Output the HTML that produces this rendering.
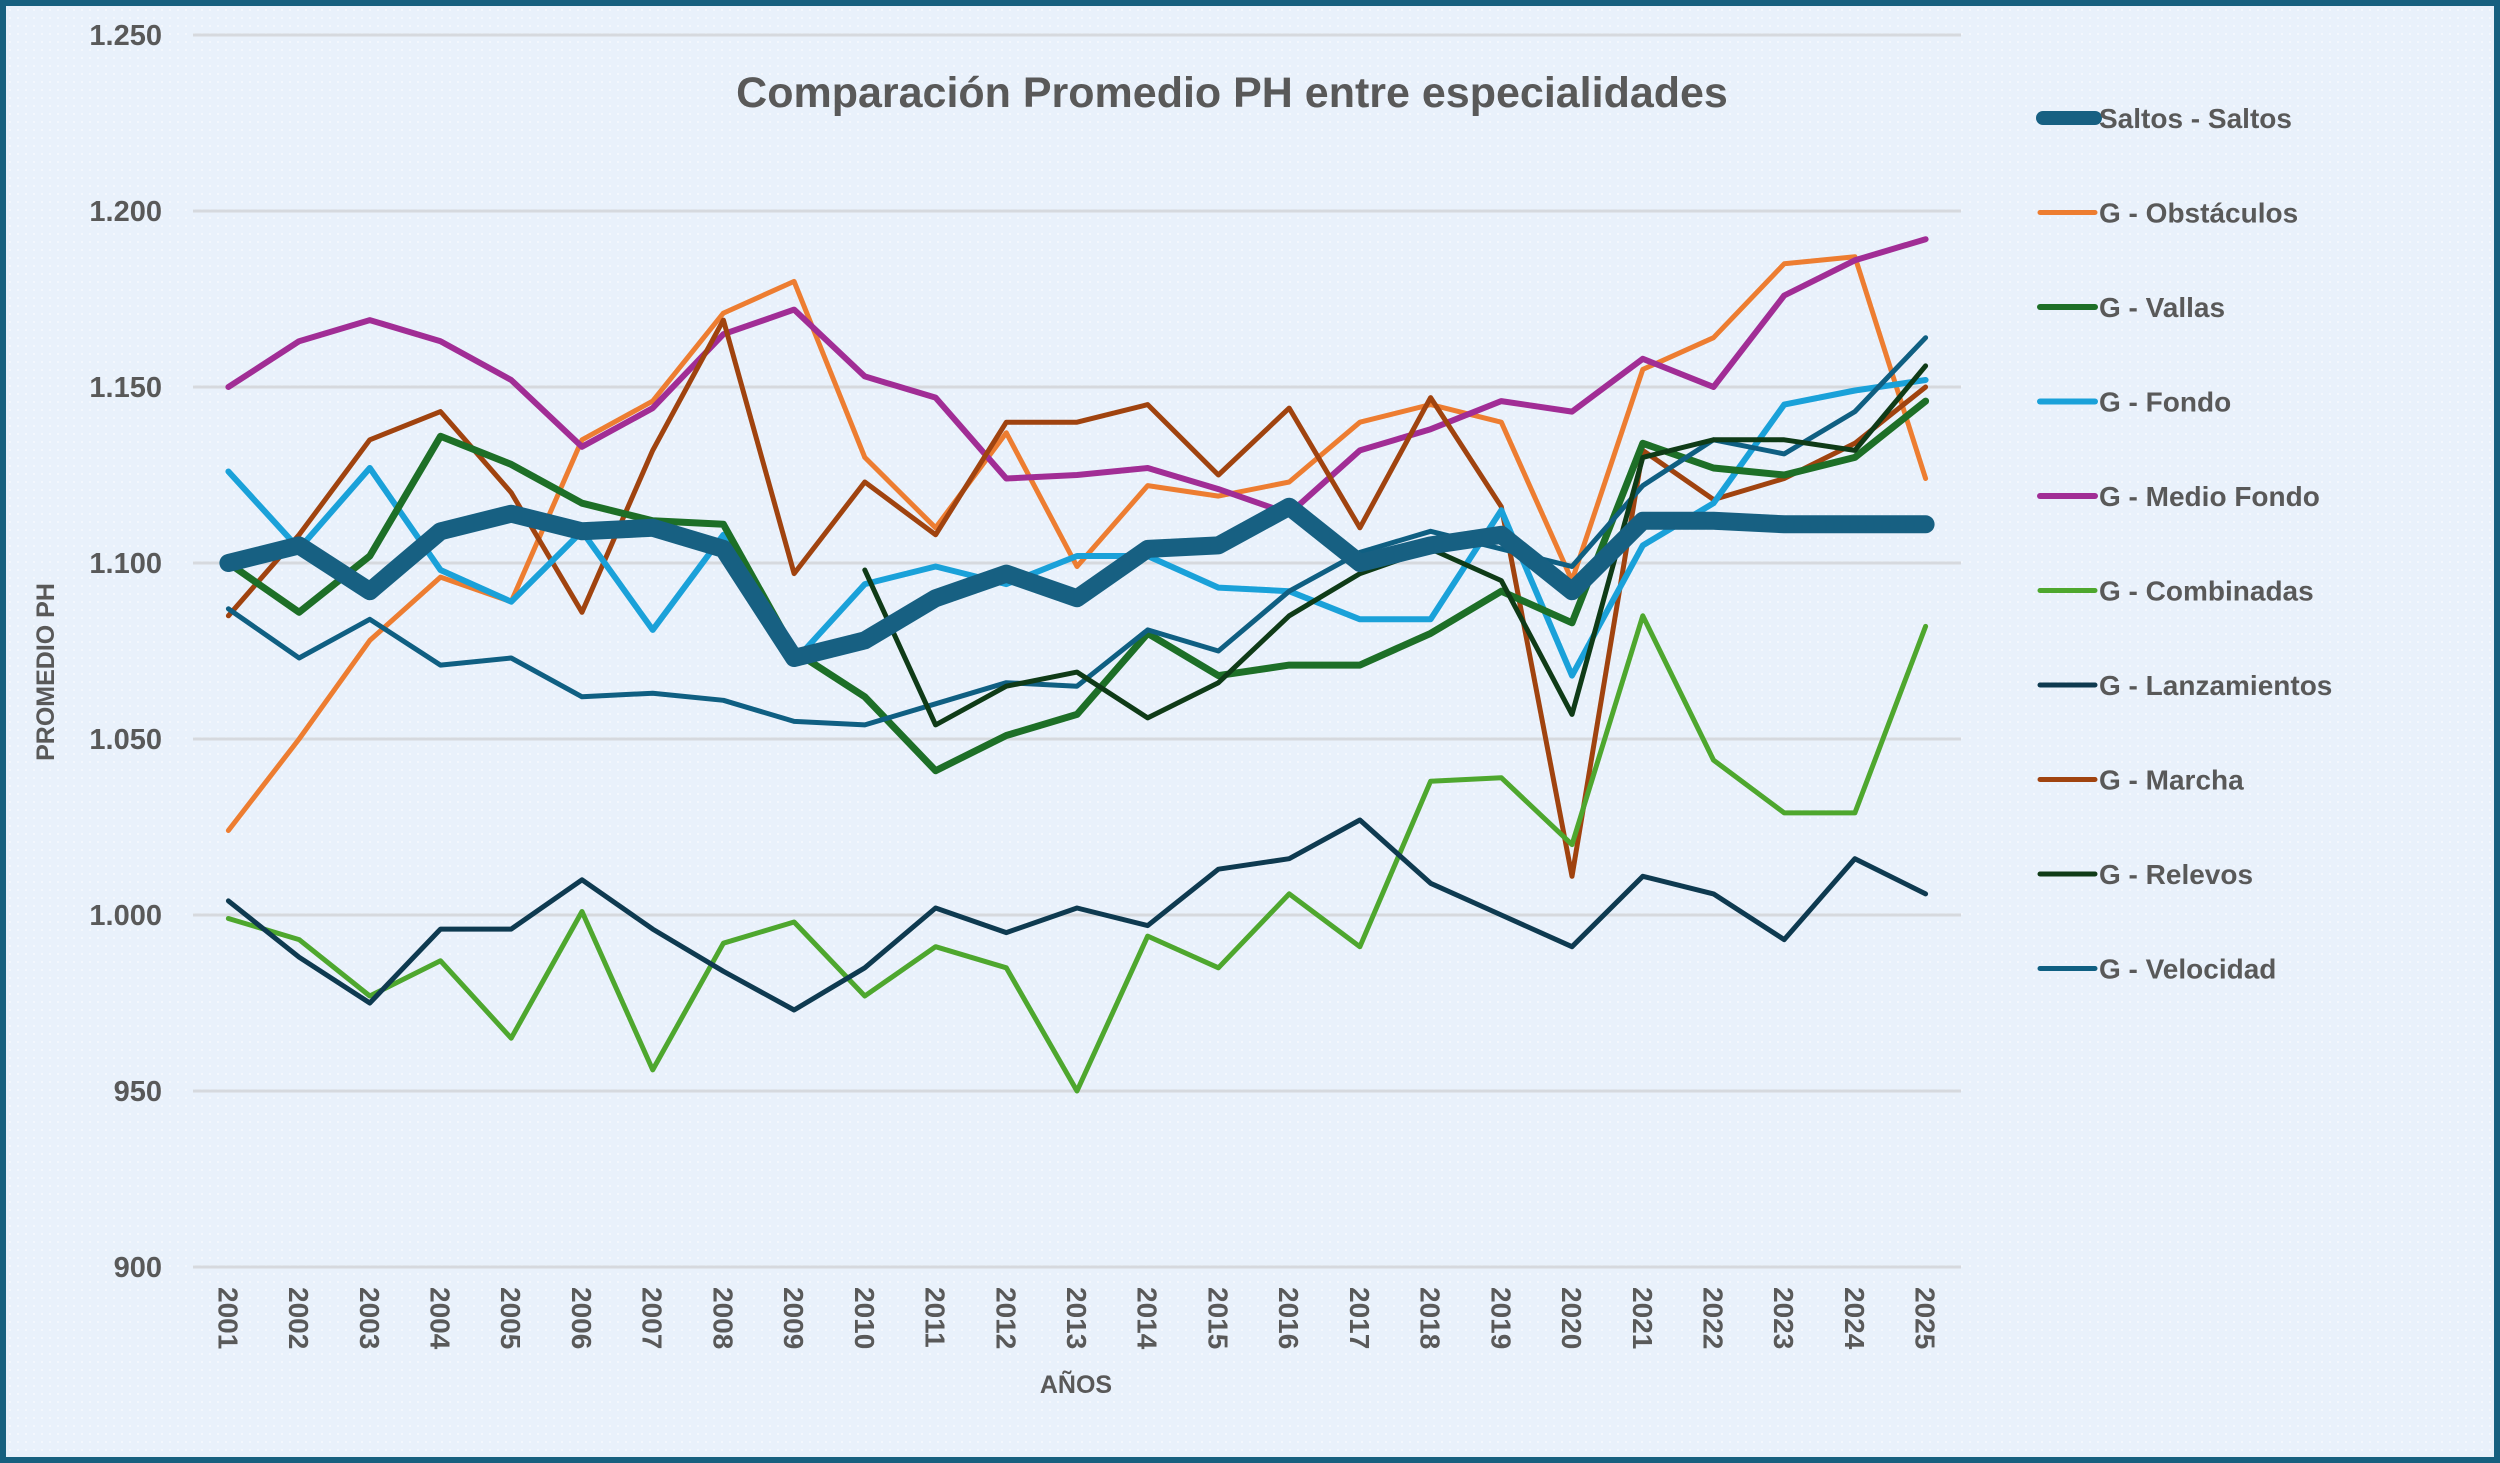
<!DOCTYPE html>
<html><head><meta charset="utf-8">
<style>
html,body{margin:0;padding:0;}
body{width:2500px;height:1463px;overflow:hidden;font-family:"Liberation Sans",sans-serif;}
#frame{position:absolute;left:0;top:0;width:2488px;height:1451px;border:6px solid #17607f;background:#e9f1fb;}
svg{position:absolute;left:0;top:0;}
</style></head>
<body>
<div id="frame"></div>
<svg id="chart" width="2500" height="1463">
  <defs>
    <pattern id="dots" width="8" height="8" patternUnits="userSpaceOnUse">
      <circle cx="2" cy="2" r="1" fill="#ffffff" opacity="0.6"/>
    </pattern>
  </defs>
  <rect x="6" y="6" width="2488" height="1451" fill="url(#dots)"/>
  <text x="1232" y="107" text-anchor="middle" font-size="43" font-weight="bold" fill="#595959">Comparación Promedio PH entre especialidades</text>
  <text x="0" y="0" transform="translate(54,672) rotate(-90)" text-anchor="middle" font-size="25" font-weight="bold" fill="#595959">PROMEDIO PH</text>
  <text x="1076" y="1393" text-anchor="middle" font-size="25" font-weight="bold" fill="#595959">AÑOS</text>
  <g id="grid"></g>
  <g id="series"></g>
  <g id="legend"></g>
</svg>
<script>
const years = ["2001","2002","2003","2004","2005","2006","2007","2008","2009","2010","2011","2012","2013","2014","2015","2016","2017","2018","2019","2020","2021","2022","2023","2024","2025"];
const yTicks = [900,950,1000,1050,1100,1150,1200,1250];
const yTickLabels = ["900","950","1.000","1.050","1.100","1.150","1.200","1.250"];
const seriesNames = ["Saltos - Saltos","G - Obstáculos","G - Vallas","G - Fondo","G - Medio Fondo","G - Combinadas","G - Lanzamientos","G - Marcha","G - Relevos","G - Velocidad"];
const saltos = [1100,1105,1092,1109,1114,1109,1110,1104,1073,1078,1090,1097,1090,1104,1105,1116,1100,1105,1108,1092,1112,1112,1111,1111,1111];
const obstaculos = [1024,1050,1078,1096,1089,1135,1146,1171,1180,1130,1110,1137,1099,1122,1119,1123,1140,1145,1140,1095,1155,1164,1185,1187,1124];
const vallas = [1100,1086,1102,1136,1128,1117,1112,1111,1075,1062,1041,1051,1057,1080,1068,1071,1071,1080,1092,1083,1134,1127,1125,1130,1146];
const fondo = [1126,1104,1127,1098,1089,1109,1081,1108,1072,1094,1099,1094,1102,1102,1093,1092,1084,1084,1115,1068,1105,1117,1145,1149,1152];
const medioFondo = [1150,1163,1169,1163,1152,1133,1144,1165,1172,1153,1147,1124,1125,1127,1121,1114,1132,1138,1146,1143,1158,1150,1176,1186,1192];
const combinadas = [999,993,977,987,965,1001,956,992,998,977,991,985,950,994,985,1006,991,1038,1039,1020,1085,1044,1029,1029,1082];
const lanzamientos = [1004,988,975,996,996,1010,996,984,973,985,1002,995,1002,997,1013,1016,1027,1009,1000,991,1011,1006,993,1016,1006];
const marcha = [1085,1108,1135,1143,1120,1086,1132,1169,1097,1123,1108,1140,1140,1145,1125,1144,1110,1147,1116,1011,1132,1118,1124,1134,1150];
const relevos = [null,null,null,null,null,null,null,null,null,1098,1054,1065,1069,1056,1066,1085,1097,1104,1095,1057,1130,1135,1135,1132,1156];
const velocidad = [1087,1073,1084,1071,1073,1062,1063,1061,1055,1054,1060,1066,1065,1081,1075,1092,1103,1109,1104,1099,1122,1135,1131,1143,1164];

const NS = "http://www.w3.org/2000/svg";
const plotL = 193, plotR = 1961, plotT = 35, plotB = 1267;
const yMin = 900, yMax = 1250;
function xPos(i){ return plotL + (i + 0.5) * (plotR - plotL) / years.length; }
function yPos(v){ return plotB - (v - yMin) / (yMax - yMin) * (plotB - plotT); }

const grid = document.getElementById('grid');
yTicks.forEach((t, k) => {
  const ln = document.createElementNS(NS, 'line');
  ln.setAttribute('x1', plotL); ln.setAttribute('x2', plotR);
  ln.setAttribute('y1', yPos(t)); ln.setAttribute('y2', yPos(t));
  ln.setAttribute('stroke', '#d6d9de'); ln.setAttribute('stroke-width', '3');
  
  
  grid.appendChild(ln);
  const tx = document.createElementNS(NS, 'text');
  tx.setAttribute('x', 162); tx.setAttribute('y', yPos(t) + 10);
  tx.setAttribute('text-anchor', 'end'); tx.setAttribute('font-size', '29');
  tx.setAttribute('font-weight', 'bold'); tx.setAttribute('fill', '#595959');
  tx.textContent = yTickLabels[k];
  
  
  grid.appendChild(tx);
});
years.forEach((yr, i) => {
  const tx = document.createElementNS(NS, 'text');
  tx.setAttribute('transform', 'translate(' + (xPos(i) - 10) + ',1287) rotate(90)');
  tx.setAttribute('font-size', '28'); tx.setAttribute('font-weight', 'bold');
  tx.setAttribute('fill', '#595959');
  tx.textContent = yr;
  
  
  grid.appendChild(tx);
});

const allSeries = [saltos, obstaculos, vallas, fondo, medioFondo, combinadas, lanzamientos, marcha, relevos, velocidad];
const colors = ["#176082","#ed7d31","#1d6f27","#1aa1d9","#a12d95","#4ea72e","#0e3a50","#a0430f","#0f3b17","#0f5f82"];
const widths = [18,5,7,6,6,5,5,5,5,5];
const slugs = ["saltos","obstaculos","vallas","fondo","medio-fondo","combinadas","lanzamientos","marcha","relevos","velocidad"];
const drawOrder = [1,4,7,3,2,5,6,9,8,0];
const sg = document.getElementById('series');
drawOrder.forEach(s => {
  const data = allSeries[s];
  let d = '', started = false;
  data.forEach((v, i) => {
    if (v === null) { started = false; return; }
    d += (started ? 'L' : 'M') + xPos(i).toFixed(1) + ' ' + yPos(v).toFixed(1) + ' ';
    started = true;
  });
  const p = document.createElementNS(NS, 'path');
  p.setAttribute('d', d);
  p.setAttribute('fill', 'none');
  p.setAttribute('stroke', colors[s]);
  p.setAttribute('stroke-width', widths[s]);
  p.setAttribute('stroke-linejoin', 'round');
  p.setAttribute('stroke-linecap', 'round');
  
  
  sg.appendChild(p);
});

const lg = document.getElementById('legend');
seriesNames.forEach((name, s) => {
  const y = 118 + s * 94.5;
  const g = document.createElementNS(NS, 'g');
  
  
  const ln = document.createElementNS(NS, 'line');
  ln.setAttribute('x1', s === 0 ? 2043 : 2040); ln.setAttribute('x2', 2095);
  ln.setAttribute('y1', y); ln.setAttribute('y2', y);
  ln.setAttribute('stroke', colors[s]);
  ln.setAttribute('stroke-width', s === 0 ? 14 : Math.min(widths[s], 6));
  ln.setAttribute('stroke-linecap', 'round');
  
  
  g.appendChild(ln);
  const tx = document.createElementNS(NS, 'text');
  tx.setAttribute('x', 2099); tx.setAttribute('y', y + 10);
  tx.setAttribute('font-size', '28'); tx.setAttribute('font-weight', 'bold');
  tx.setAttribute('fill', '#595959');
  tx.textContent = name;
  
  
  g.appendChild(tx);
  lg.appendChild(g);
});
</script>
</body></html>
